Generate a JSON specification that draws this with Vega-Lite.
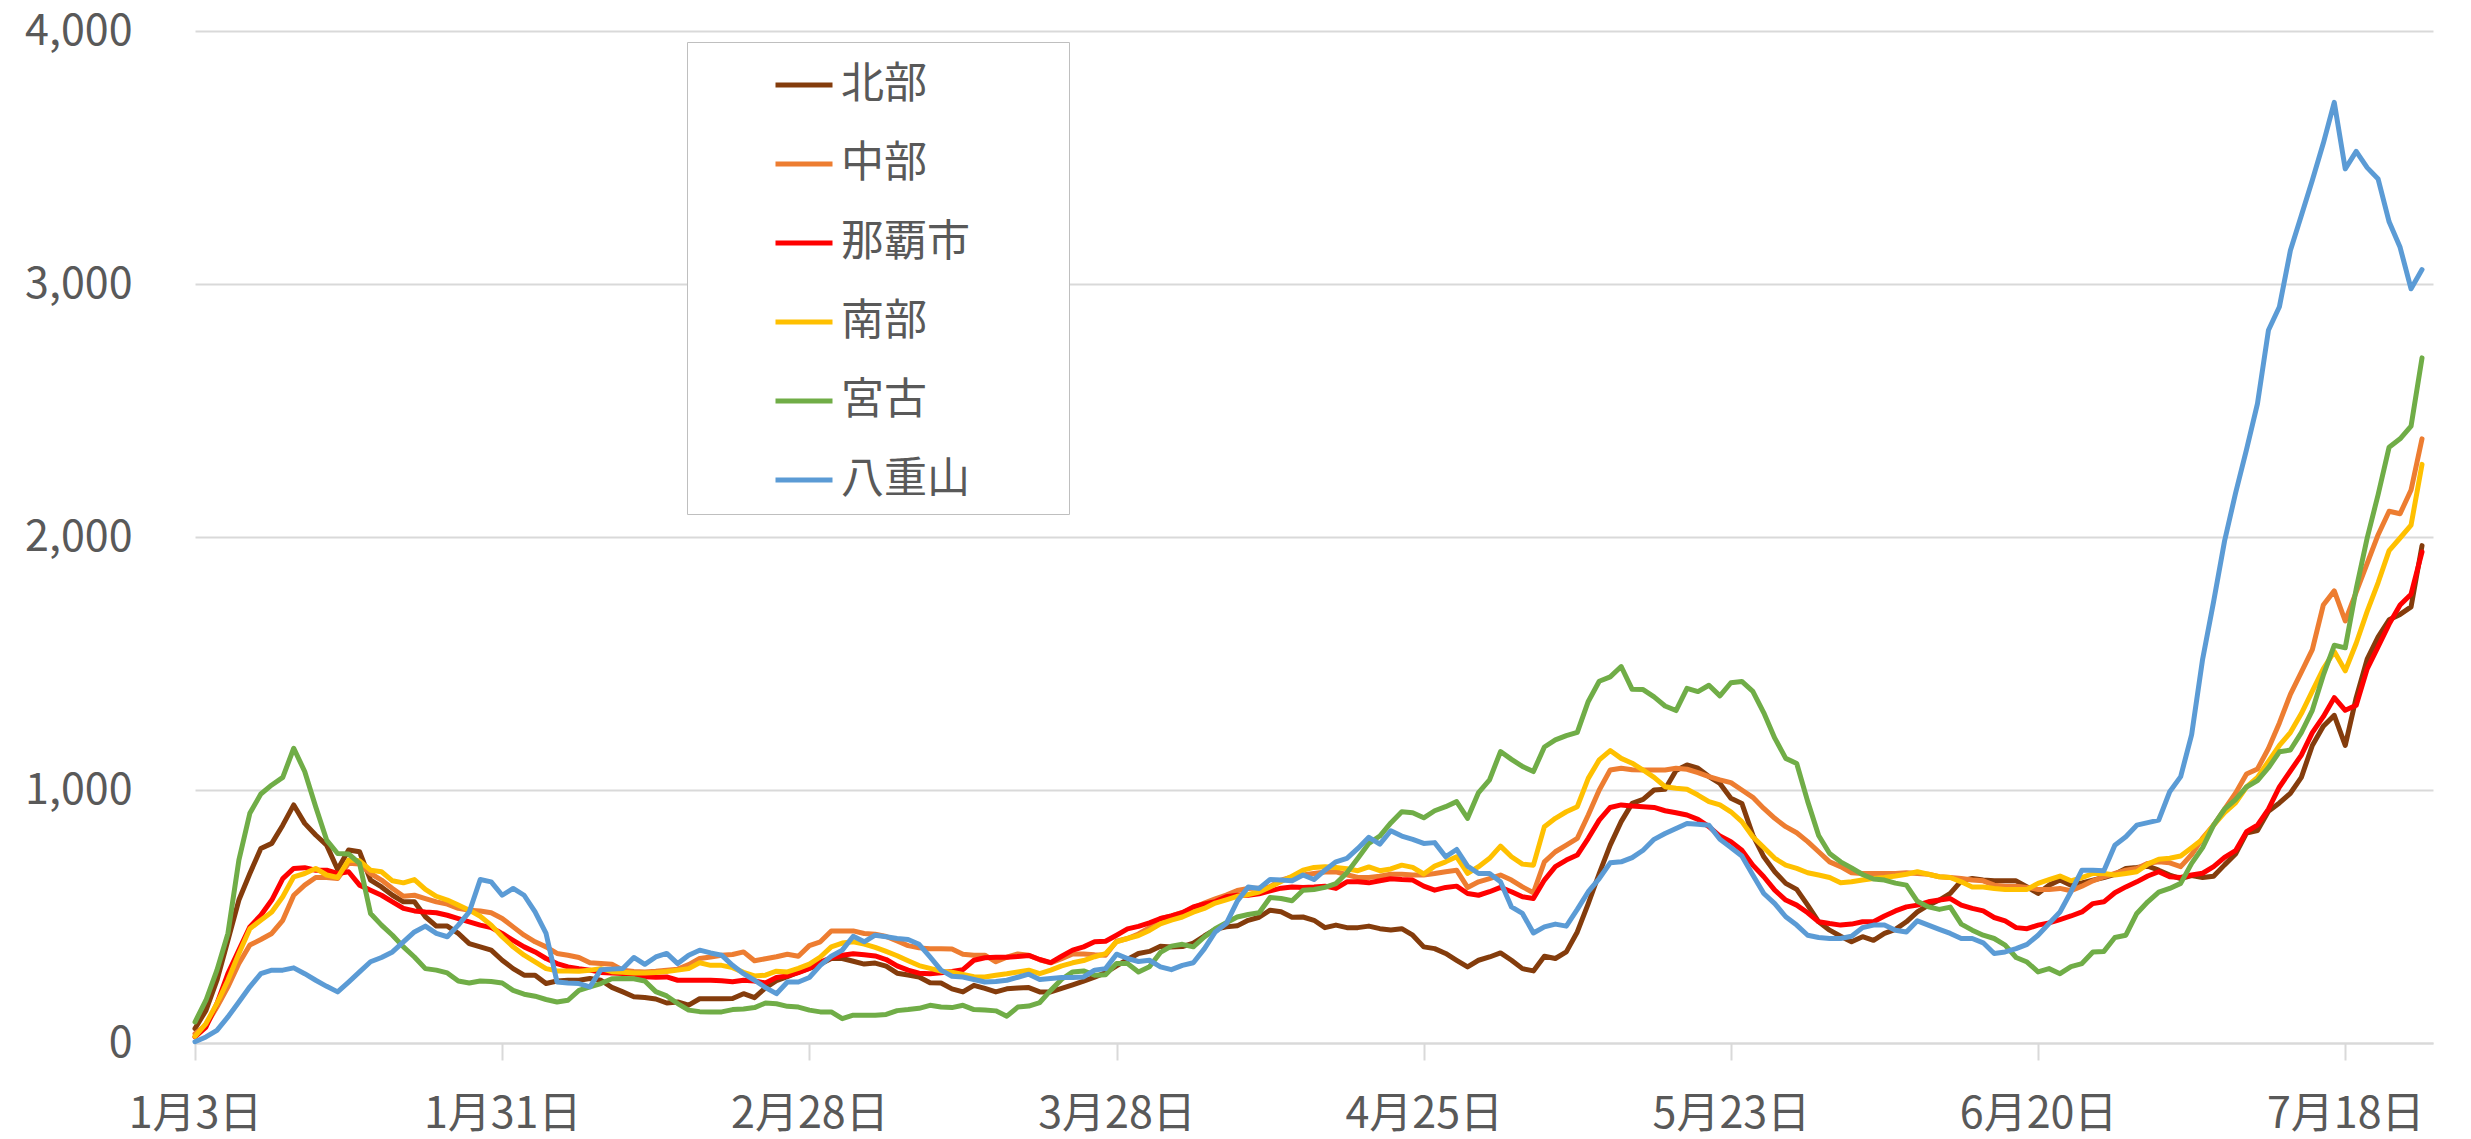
{
  "$schema": "https://vega.github.io/schema/vega-lite/v6.json",
  "width": 2238,
  "height": 1012,
  "autosize": {"type": "none"},
  "padding": {"left": 195, "top": 31, "right": 38, "bottom": 96},
  "background": "#ffffff",
  "config": {"view": {"stroke": null}, "font": "Noto Sans CJK JP"},
  "data": {
    "format": {"parse": {"date": "date:'%Y-%m-%d'"}},
    "values": [
      {"date":"2022-01-03","北部":57,"中部":37,"那覇市":24,"南部":26,"宮古":83,"八重山":5},
      {"date":"2022-01-04","北部":129,"中部":70,"那覇市":63,"南部":77,"宮古":169,"八重山":24},
      {"date":"2022-01-05","北部":248,"中部":142,"那覇市":156,"南部":156,"宮古":288,"八重山":50},
      {"date":"2022-01-06","北部":406,"中部":222,"那覇市":274,"南部":248,"宮古":433,"八重山":103},
      {"date":"2022-01-07","北部":565,"中部":314,"那覇市":367,"南部":354,"宮古":723,"八重山":162},
      {"date":"2022-01-08","北部":670,"中部":387,"那覇市":459,"南部":452,"宮古":908,"八重山":222},
      {"date":"2022-01-09","北部":769,"中部":409,"那覇市":505,"南部":485,"宮古":984,"八重山":274},
      {"date":"2022-01-10","北部":789,"中部":433,"那覇市":565,"南部":518,"宮古":1020,"八重山":288},
      {"date":"2022-01-11","北部":861,"中部":485,"那覇市":650,"南部":578,"宮古":1050,"八重山":288},
      {"date":"2022-01-12","北部":941,"中部":584,"那覇市":690,"南部":657,"宮古":1165,"八重山":297},
      {"date":"2022-01-13","北部":868,"中部":624,"那覇市":693,"南部":670,"宮古":1073,"八重山":274},
      {"date":"2022-01-14","北部":822,"中部":654,"那覇市":683,"南部":690,"宮古":934,"八重山":248},
      {"date":"2022-01-15","北部":782,"中部":654,"那覇市":683,"南部":664,"宮古":802,"八重山":224},
      {"date":"2022-01-16","北部":686,"中部":650,"那覇市":670,"南部":654,"宮古":749,"八重山":202},
      {"date":"2022-01-17","北部":763,"中部":710,"那覇市":677,"南部":723,"宮古":747,"八重山":241},
      {"date":"2022-01-18","北部":756,"中部":707,"那覇市":624,"南部":720,"宮古":710,"八重山":281},
      {"date":"2022-01-19","北部":644,"中部":670,"那覇市":604,"南部":683,"宮古":512,"八重山":321},
      {"date":"2022-01-20","北部":617,"中部":644,"那覇市":584,"南部":677,"宮古":466,"八重山":338},
      {"date":"2022-01-21","北部":584,"中部":611,"那覇市":558,"南部":641,"宮古":426,"八重山":360},
      {"date":"2022-01-22","北部":558,"中部":580,"那覇市":532,"南部":633,"宮古":380,"八重山":400},
      {"date":"2022-01-23","北部":558,"中部":584,"那覇市":522,"南部":646,"宮古":340,"八重山":439},
      {"date":"2022-01-24","北部":499,"中部":571,"那覇市":518,"南部":607,"宮古":294,"八重山":462},
      {"date":"2022-01-25","北部":462,"中部":558,"那覇市":515,"南部":580,"宮古":288,"八重山":433},
      {"date":"2022-01-26","北部":462,"中部":549,"那覇市":505,"南部":565,"宮古":277,"八重山":420},
      {"date":"2022-01-27","北部":433,"中部":532,"那覇市":492,"南部":545,"宮古":245,"八重山":466},
      {"date":"2022-01-28","北部":393,"中部":525,"那覇市":479,"南部":525,"宮古":237,"八重山":518},
      {"date":"2022-01-29","北部":380,"中部":522,"那覇市":466,"南部":501,"宮古":245,"八重山":646},
      {"date":"2022-01-30","北部":367,"中部":515,"那覇市":456,"南部":466,"宮古":243,"八重山":637},
      {"date":"2022-01-31","北部":327,"中部":492,"那覇市":433,"南部":420,"宮古":237,"八重山":584},
      {"date":"2022-02-01","北部":294,"中部":459,"那覇市":406,"南部":380,"宮古":208,"八重山":611},
      {"date":"2022-02-02","北部":268,"中部":426,"那覇市":380,"南部":347,"宮古":193,"八重山":584},
      {"date":"2022-02-03","北部":268,"中部":400,"那覇市":360,"南部":321,"宮古":185,"八重山":518},
      {"date":"2022-02-04","北部":235,"中部":380,"那覇市":334,"南部":294,"宮古":172,"八重山":433},
      {"date":"2022-02-05","北部":245,"中部":354,"那覇市":314,"南部":285,"宮古":162,"八重山":241},
      {"date":"2022-02-06","北部":248,"中部":347,"那覇市":301,"南部":285,"宮古":169,"八重山":237},
      {"date":"2022-02-07","北部":248,"中部":338,"那覇市":294,"南部":284,"宮古":208,"八重山":235},
      {"date":"2022-02-08","北部":255,"中部":317,"那覇市":288,"南部":288,"宮古":222,"八重山":222},
      {"date":"2022-02-09","北部":248,"中部":314,"那覇市":279,"南部":294,"宮古":235,"八重山":290},
      {"date":"2022-02-10","北部":220,"中部":311,"那覇市":277,"南部":282,"宮古":254,"八重山":292},
      {"date":"2022-02-11","北部":202,"中部":288,"那覇市":275,"南部":280,"宮古":255,"八重山":294},
      {"date":"2022-02-12","北部":183,"中部":283,"那覇市":272,"南部":277,"宮古":254,"八重山":338},
      {"date":"2022-02-13","北部":180,"中部":281,"那覇市":262,"南部":277,"宮古":245,"八重山":311},
      {"date":"2022-02-14","北部":174,"中部":284,"那覇市":260,"南部":279,"宮古":203,"八重山":340},
      {"date":"2022-02-15","北部":158,"中部":288,"那覇市":261,"南部":283,"宮古":186,"八重山":354},
      {"date":"2022-02-16","北部":162,"中部":292,"那覇市":248,"南部":288,"宮古":156,"八重山":314},
      {"date":"2022-02-17","北部":150,"中部":310,"那覇市":248,"南部":294,"宮古":130,"八重山":347},
      {"date":"2022-02-18","北部":175,"中部":334,"那覇市":248,"南部":317,"宮古":124,"八重山":367},
      {"date":"2022-02-19","北部":175,"中部":340,"那覇市":248,"南部":307,"宮古":123,"八重山":356},
      {"date":"2022-02-20","北部":175,"中部":347,"那覇市":246,"南部":307,"宮古":123,"八重山":347},
      {"date":"2022-02-21","北部":176,"中部":350,"那覇市":242,"南部":298,"宮古":132,"八重山":307},
      {"date":"2022-02-22","北部":195,"中部":360,"那覇市":248,"南部":279,"宮古":134,"八重山":274},
      {"date":"2022-02-23","北部":179,"中部":325,"那覇市":245,"南部":265,"宮古":140,"八重山":248},
      {"date":"2022-02-24","北部":218,"中部":333,"那覇市":237,"南部":268,"宮古":158,"八重山":219},
      {"date":"2022-02-25","北部":246,"中部":341,"那覇市":259,"南部":284,"宮古":155,"八重山":195},
      {"date":"2022-02-26","北部":262,"中部":351,"那覇市":265,"南部":281,"宮古":145,"八重山":241},
      {"date":"2022-02-27","北部":280,"中部":343,"那覇市":278,"南部":295,"宮古":142,"八重山":241},
      {"date":"2022-02-28","北部":295,"中部":385,"那覇市":295,"南部":312,"宮古":130,"八重山":259},
      {"date":"2022-03-01","北部":312,"中部":400,"那覇市":320,"南部":340,"宮古":123,"八重山":307},
      {"date":"2022-03-02","北部":334,"中部":443,"那覇市":337,"南部":380,"宮古":123,"八重山":343},
      {"date":"2022-03-03","北部":334,"中部":443,"那覇市":347,"南部":395,"宮古":96,"八重山":367},
      {"date":"2022-03-04","北部":323,"中部":443,"那覇市":353,"南部":400,"宮古":110,"八重山":422},
      {"date":"2022-03-05","北部":312,"中部":433,"那覇市":349,"南部":391,"宮古":110,"八重山":400},
      {"date":"2022-03-06","北部":316,"中部":430,"那覇市":344,"南部":378,"宮古":110,"八重山":426},
      {"date":"2022-03-07","北部":304,"中部":421,"那覇市":330,"南部":362,"宮古":113,"八重山":420},
      {"date":"2022-03-08","北部":276,"中部":403,"那覇市":305,"南部":345,"宮古":128,"八重山":413},
      {"date":"2022-03-09","北部":269,"中部":385,"那覇市":288,"南部":325,"宮古":132,"八重山":409},
      {"date":"2022-03-10","北部":261,"中部":376,"那覇市":276,"南部":306,"宮古":137,"八重山":390},
      {"date":"2022-03-11","北部":238,"中部":373,"那覇市":274,"南部":295,"宮古":149,"八重山":340},
      {"date":"2022-03-12","北部":237,"中部":373,"那覇市":278,"南部":284,"宮古":142,"八重山":288},
      {"date":"2022-03-13","北部":214,"中部":372,"那覇市":283,"南部":280,"宮古":140,"八重山":264},
      {"date":"2022-03-14","北部":202,"中部":351,"那覇市":290,"南部":271,"宮古":149,"八重山":261},
      {"date":"2022-03-15","北部":228,"中部":347,"那覇市":327,"南部":262,"宮古":132,"八重山":251},
      {"date":"2022-03-16","北部":216,"中部":347,"那覇市":337,"南部":261,"宮古":130,"八重山":241},
      {"date":"2022-03-17","北部":202,"中部":321,"那覇市":339,"南部":268,"宮古":127,"八重山":243},
      {"date":"2022-03-18","北部":214,"中部":339,"那覇市":339,"南部":274,"宮古":106,"八重山":248},
      {"date":"2022-03-19","北部":217,"中部":352,"那覇市":342,"南部":281,"宮古":142,"八重山":260},
      {"date":"2022-03-20","北部":219,"中部":347,"那覇市":346,"南部":288,"宮古":146,"八重山":272},
      {"date":"2022-03-21","北部":202,"中部":329,"那覇市":330,"南部":274,"宮古":160,"八重山":251},
      {"date":"2022-03-22","北部":202,"中部":317,"那覇市":318,"南部":288,"宮古":208,"八重山":255},
      {"date":"2022-03-23","北部":216,"中部":333,"那覇市":343,"南部":305,"宮古":252,"八重山":259},
      {"date":"2022-03-24","北部":230,"中部":352,"那覇市":367,"南部":317,"宮古":281,"八重山":259},
      {"date":"2022-03-25","北部":245,"中部":352,"那覇市":380,"南部":326,"宮古":285,"八重山":261},
      {"date":"2022-03-26","北部":260,"中部":349,"那覇市":400,"南部":341,"宮古":268,"八重山":288},
      {"date":"2022-03-27","北部":278,"中部":347,"那覇市":402,"南部":353,"宮古":270,"八重山":294},
      {"date":"2022-03-28","北部":305,"中部":402,"那覇市":426,"南部":400,"宮古":314,"八重山":351},
      {"date":"2022-03-29","北部":330,"中部":413,"那覇市":451,"南部":413,"宮古":314,"八重山":334},
      {"date":"2022-03-30","北部":354,"中部":431,"那覇市":461,"南部":425,"宮古":281,"八重山":322},
      {"date":"2022-03-31","北部":362,"中部":456,"那覇市":475,"南部":445,"宮古":301,"八重山":327},
      {"date":"2022-04-01","北部":382,"中部":491,"那覇市":492,"南部":471,"宮古":358,"八重山":301},
      {"date":"2022-04-02","北部":379,"中部":502,"那覇市":502,"南部":486,"宮古":383,"八重山":290},
      {"date":"2022-04-03","北部":381,"中部":516,"那覇市":515,"南部":498,"宮古":390,"八重山":307},
      {"date":"2022-04-04","北部":395,"中部":534,"那覇市":538,"南部":517,"宮古":380,"八重山":317},
      {"date":"2022-04-05","北部":423,"中部":553,"那覇市":550,"南部":532,"宮古":419,"八重山":372},
      {"date":"2022-04-06","北部":449,"中部":570,"那覇市":559,"南部":553,"宮古":452,"八重山":439},
      {"date":"2022-04-07","北部":459,"中部":585,"那覇市":578,"南部":566,"宮古":475,"八重山":472},
      {"date":"2022-04-08","北部":463,"中部":603,"那覇市":584,"南部":580,"宮古":498,"八重山":560},
      {"date":"2022-04-09","北部":485,"中部":611,"那覇市":584,"南部":587,"宮古":508,"八重山":617},
      {"date":"2022-04-10","北部":497,"中部":613,"那覇市":590,"南部":597,"宮古":515,"八重山":611},
      {"date":"2022-04-11","北部":525,"中部":618,"那覇市":601,"南部":617,"宮古":575,"八重山":646},
      {"date":"2022-04-12","北部":519,"中部":644,"那覇市":612,"南部":638,"宮古":571,"八重山":644},
      {"date":"2022-04-13","北部":497,"中部":656,"那覇市":617,"南部":659,"宮古":562,"八重山":641},
      {"date":"2022-04-14","北部":498,"中部":664,"那覇市":615,"南部":683,"宮古":604,"八重山":664},
      {"date":"2022-04-15","北部":485,"中部":670,"那覇市":617,"南部":694,"宮古":607,"八重山":646},
      {"date":"2022-04-16","北部":456,"中部":676,"那覇市":620,"南部":697,"宮古":615,"八重山":683},
      {"date":"2022-04-17","北部":466,"中部":677,"那覇市":611,"南部":694,"宮古":630,"八重山":716},
      {"date":"2022-04-18","北部":456,"中部":665,"那覇市":637,"南部":689,"宮古":673,"八重山":730},
      {"date":"2022-04-19","北部":456,"中部":654,"那覇市":637,"南部":681,"宮古":730,"八重山":769},
      {"date":"2022-04-20","北部":462,"中部":654,"那覇市":633,"南部":696,"宮古":789,"八重山":813},
      {"date":"2022-04-21","北部":452,"中部":659,"那覇市":641,"南部":681,"宮古":818,"八重山":786},
      {"date":"2022-04-22","北部":447,"中部":667,"那覇市":649,"南部":688,"宮古":870,"八重山":839},
      {"date":"2022-04-23","北部":452,"中部":667,"那覇市":646,"南部":703,"宮古":914,"八重山":818},
      {"date":"2022-04-24","北部":426,"中部":664,"那覇市":644,"南部":694,"宮古":910,"八重山":805},
      {"date":"2022-04-25","北部":380,"中部":664,"那覇市":620,"南部":668,"宮古":890,"八重山":789},
      {"date":"2022-04-26","北部":373,"中部":670,"那覇市":604,"南部":699,"宮古":918,"八重山":792},
      {"date":"2022-04-27","北部":354,"中部":677,"那覇市":615,"南部":716,"宮古":934,"八重山":736},
      {"date":"2022-04-28","北部":327,"中部":683,"那覇市":620,"南部":736,"宮古":954,"八重山":765},
      {"date":"2022-04-29","北部":301,"中部":615,"那覇市":591,"南部":670,"宮古":888,"八重山":699},
      {"date":"2022-04-30","北部":327,"中部":637,"那覇市":584,"南部":697,"宮古":990,"八重山":670},
      {"date":"2022-05-01","北部":340,"中部":650,"那覇市":598,"南部":730,"宮古":1040,"八重山":670},
      {"date":"2022-05-02","北部":356,"中部":664,"那覇市":615,"南部":778,"宮古":1152,"八重山":637},
      {"date":"2022-05-03","北部":327,"中部":644,"那覇市":598,"南部":736,"宮古":1121,"八重山":538},
      {"date":"2022-05-04","北部":294,"中部":617,"那覇市":578,"南部":707,"宮古":1093,"八重山":512},
      {"date":"2022-05-05","北部":285,"中部":594,"那覇市":571,"南部":703,"宮古":1073,"八重山":435},
      {"date":"2022-05-06","北部":343,"中部":716,"那覇市":644,"南部":855,"宮古":1170,"八重山":459},
      {"date":"2022-05-07","北部":334,"中部":756,"那覇市":697,"南部":888,"宮古":1198,"八重山":470},
      {"date":"2022-05-08","北部":360,"中部":782,"那覇市":723,"南部":914,"宮古":1215,"八重山":462},
      {"date":"2022-05-09","北部":439,"中部":809,"那覇市":743,"南部":934,"宮古":1228,"八重山":528},
      {"date":"2022-05-10","北部":551,"中部":901,"那覇市":809,"南部":1046,"宮古":1350,"八重山":598},
      {"date":"2022-05-11","北部":670,"中部":1000,"那覇市":881,"南部":1119,"宮古":1430,"八重山":650},
      {"date":"2022-05-12","北部":782,"中部":1079,"那覇市":931,"南部":1156,"宮古":1447,"八重山":712},
      {"date":"2022-05-13","北部":875,"中部":1086,"那覇市":941,"南部":1125,"宮古":1488,"八重山":716},
      {"date":"2022-05-14","北部":947,"中部":1080,"那覇市":937,"南部":1106,"宮古":1398,"八重山":733},
      {"date":"2022-05-15","北部":963,"中部":1079,"那覇市":934,"南部":1079,"宮古":1397,"八重山":762},
      {"date":"2022-05-16","北部":1000,"中部":1079,"那覇市":931,"南部":1050,"宮古":1368,"八重山":805},
      {"date":"2022-05-17","北部":1003,"中部":1079,"那覇市":918,"南部":1013,"宮古":1332,"八重山":828},
      {"date":"2022-05-18","北部":1077,"中部":1086,"那覇市":910,"南部":1007,"宮古":1314,"八重山":848},
      {"date":"2022-05-19","北部":1099,"中部":1082,"那覇市":901,"南部":1003,"宮古":1402,"八重山":868},
      {"date":"2022-05-20","北部":1086,"中部":1069,"那覇市":884,"南部":980,"宮古":1389,"八重山":865},
      {"date":"2022-05-21","北部":1053,"中部":1053,"那覇市":855,"南部":954,"宮古":1414,"八重山":861},
      {"date":"2022-05-22","北部":1026,"中部":1040,"那覇市":818,"南部":941,"宮古":1372,"八重山":805},
      {"date":"2022-05-23","北部":967,"中部":1029,"那覇市":796,"南部":914,"宮古":1424,"八重山":773},
      {"date":"2022-05-24","北部":947,"中部":1000,"那覇市":762,"南部":875,"宮古":1429,"八重山":739},
      {"date":"2022-05-25","北部":822,"中部":971,"那覇市":703,"南部":815,"宮古":1390,"八重山":664},
      {"date":"2022-05-26","北部":736,"中部":927,"那覇市":657,"南部":773,"宮古":1305,"八重山":591},
      {"date":"2022-05-27","北部":677,"中部":888,"那覇市":604,"南部":730,"宮古":1205,"八重山":551},
      {"date":"2022-05-28","北部":631,"中部":855,"那覇市":565,"南部":703,"宮古":1125,"八重山":499},
      {"date":"2022-05-29","北部":607,"中部":831,"那覇市":545,"南部":690,"宮古":1105,"八重山":466},
      {"date":"2022-05-30","北部":545,"中部":796,"那覇市":515,"南部":673,"宮古":955,"八重山":426},
      {"date":"2022-05-31","北部":479,"中部":756,"那覇市":479,"南部":664,"宮古":820,"八重山":417},
      {"date":"2022-06-01","北部":446,"中部":716,"那覇市":472,"南部":654,"宮古":749,"八重山":413},
      {"date":"2022-06-02","北部":422,"中部":697,"那覇市":466,"南部":633,"宮古":716,"八重山":413},
      {"date":"2022-06-03","北部":400,"中部":673,"那覇市":470,"南部":637,"宮古":692,"八重山":422},
      {"date":"2022-06-04","北部":420,"中部":670,"那覇市":479,"南部":644,"宮古":666,"八重山":456},
      {"date":"2022-06-05","北部":406,"中部":670,"那覇市":479,"南部":650,"宮古":648,"八重山":466},
      {"date":"2022-06-06","北部":433,"中部":670,"那覇市":502,"南部":654,"宮古":644,"八重山":466},
      {"date":"2022-06-07","北部":449,"中部":670,"那覇市":522,"南部":660,"宮古":632,"八重山":446},
      {"date":"2022-06-08","北部":479,"中部":673,"那覇市":538,"南部":667,"宮古":624,"八重山":439},
      {"date":"2022-06-09","北部":518,"中部":670,"那覇市":545,"南部":677,"宮古":560,"八重山":483},
      {"date":"2022-06-10","北部":545,"中部":667,"那覇市":558,"南部":667,"宮古":538,"八重山":466},
      {"date":"2022-06-11","北部":565,"中部":657,"那覇市":565,"南部":657,"宮古":528,"八重山":449},
      {"date":"2022-06-12","北部":591,"中部":654,"那覇市":571,"南部":654,"宮古":537,"八重山":433},
      {"date":"2022-06-13","北部":641,"中部":650,"那覇市":545,"南部":637,"宮古":470,"八重山":413},
      {"date":"2022-06-14","北部":650,"中部":644,"那覇市":532,"南部":617,"宮古":446,"八重山":413},
      {"date":"2022-06-15","北部":644,"中部":641,"那覇市":522,"南部":617,"宮古":426,"八重山":396},
      {"date":"2022-06-16","北部":641,"中部":624,"那覇市":496,"南部":611,"宮古":413,"八重山":354},
      {"date":"2022-06-17","北部":641,"中部":620,"那覇市":483,"南部":607,"宮古":387,"八重山":360},
      {"date":"2022-06-18","北部":641,"中部":620,"那覇市":456,"南部":607,"宮古":338,"八重山":373},
      {"date":"2022-06-19","北部":617,"中部":615,"那覇市":452,"南部":607,"宮古":320,"八重山":390},
      {"date":"2022-06-20","北部":591,"中部":607,"那覇市":466,"南部":631,"宮古":281,"八重山":426},
      {"date":"2022-06-21","北部":624,"中部":607,"那覇市":475,"南部":646,"宮古":294,"八重山":472},
      {"date":"2022-06-22","北部":644,"中部":611,"那覇市":488,"南部":660,"宮古":274,"八重山":518},
      {"date":"2022-06-23","北部":624,"中部":602,"那覇市":502,"南部":641,"宮古":302,"八重山":598},
      {"date":"2022-06-24","北部":633,"中部":620,"那覇市":518,"南部":654,"宮古":314,"八重山":683},
      {"date":"2022-06-25","北部":644,"中部":641,"那覇市":551,"南部":670,"宮古":360,"八重山":683},
      {"date":"2022-06-26","北部":654,"中部":657,"那覇市":558,"南部":670,"宮古":362,"八重山":681},
      {"date":"2022-06-27","北部":667,"中部":670,"那覇市":594,"南部":664,"宮古":417,"八重山":782},
      {"date":"2022-06-28","北部":690,"中部":683,"那覇市":617,"南部":670,"宮古":426,"八重山":815},
      {"date":"2022-06-29","北部":694,"中部":690,"那覇市":637,"南部":677,"宮古":512,"八重山":861},
      {"date":"2022-06-30","北部":699,"中部":710,"那覇市":660,"南部":707,"宮古":558,"八重山":871},
      {"date":"2022-07-01","北部":683,"中部":716,"那覇市":677,"南部":726,"宮古":596,"八重山":881},
      {"date":"2022-07-02","北部":664,"中部":712,"那覇市":657,"南部":730,"宮古":611,"八重山":993},
      {"date":"2022-07-03","北部":650,"中部":697,"那覇市":654,"南部":739,"宮古":631,"八重山":1053},
      {"date":"2022-07-04","北部":662,"中部":745,"那覇市":664,"南部":772,"宮古":710,"八重山":1219},
      {"date":"2022-07-05","北部":654,"中部":810,"那覇市":671,"南部":805,"宮古":772,"八重山":1517},
      {"date":"2022-07-06","北部":659,"中部":861,"那覇市":697,"南部":861,"宮古":861,"八重山":1744},
      {"date":"2022-07-07","北部":704,"中部":924,"那覇市":734,"南部":911,"宮古":924,"八重山":1984},
      {"date":"2022-07-08","北部":747,"中部":987,"那覇市":760,"南部":949,"宮古":962,"八重山":2173},
      {"date":"2022-07-09","北部":830,"中部":1063,"那覇市":835,"南部":1012,"宮古":1012,"八重山":2345},
      {"date":"2022-07-10","北部":840,"中部":1083,"那覇市":861,"南部":1050,"宮古":1037,"八重山":2527},
      {"date":"2022-07-11","北部":916,"中部":1164,"那覇市":924,"南部":1113,"宮古":1088,"八重山":2817},
      {"date":"2022-07-12","北部":949,"中部":1265,"那覇市":1012,"南部":1176,"宮古":1151,"八重山":2910},
      {"date":"2022-07-13","北部":987,"中部":1378,"那覇市":1075,"南部":1227,"宮古":1158,"八重山":3132},
      {"date":"2022-07-14","北部":1050,"中部":1466,"那覇市":1138,"南部":1302,"宮古":1227,"八重山":3271},
      {"date":"2022-07-15","北部":1176,"中部":1555,"那覇市":1227,"南部":1391,"宮古":1315,"八重山":3410},
      {"date":"2022-07-16","北部":1252,"中部":1731,"那覇市":1290,"南部":1479,"宮古":1454,"八重山":3556},
      {"date":"2022-07-17","北部":1295,"中部":1787,"那覇市":1365,"南部":1547,"宮古":1572,"八重山":3718},
      {"date":"2022-07-18","北部":1176,"中部":1668,"那覇市":1315,"南部":1471,"宮古":1562,"八重山":3455},
      {"date":"2022-07-19","北部":1365,"中部":1782,"那覇市":1335,"南部":1580,"宮古":1795,"八重山":3524},
      {"date":"2022-07-20","北部":1517,"中部":1896,"那覇市":1479,"南部":1706,"宮古":1996,"八重山":3460},
      {"date":"2022-07-21","北部":1605,"中部":2009,"那覇市":1567,"南部":1820,"宮古":2168,"八重山":3415},
      {"date":"2022-07-22","北部":1673,"中部":2102,"那覇市":1656,"南部":1946,"宮古":2355,"八重山":3246},
      {"date":"2022-07-23","北部":1694,"中部":2092,"那覇市":1731,"南部":1996,"宮古":2388,"八重山":3145},
      {"date":"2022-07-24","北部":1724,"中部":2186,"那覇市":1774,"南部":2047,"宮古":2438,"八重山":2981},
      {"date":"2022-07-25","北部":1966,"中部":2388,"那覇市":1941,"南部":2287,"宮古":2708,"八重山":3057}
    ]
  },
  "transform": [
    {"fold": ["北部", "中部", "那覇市", "南部", "宮古", "八重山"], "as": ["area", "value"]}
  ],
  "mark": {"type": "line", "strokeWidth": 5, "strokeCap": "round", "strokeJoin": "round"},
  "encoding": {
    "x": {
      "field": "date",
      "type": "temporal",
      "scale": {"domain": [{"year": 2022, "month": 1, "date": 3}, {"year": 2022, "month": 7, "date": 26}]},
      "axis": {
        "title": null,
        "values": [
          {"year": 2022, "month": 1, "date": 3},
          {"year": 2022, "month": 1, "date": 31},
          {"year": 2022, "month": 2, "date": 28},
          {"year": 2022, "month": 3, "date": 28},
          {"year": 2022, "month": 4, "date": 25},
          {"year": 2022, "month": 5, "date": 23},
          {"year": 2022, "month": 6, "date": 20},
          {"year": 2022, "month": 7, "date": 18}
        ],
        "format": "%-m月%-d日",
        "grid": false,
        "domainColor": "#d9d9d9",
        "domainWidth": 2,
        "ticks": true,
        "tickColor": "#d9d9d9",
        "tickWidth": 2,
        "tickSize": 17,
        "labelFontSize": 43,
        "labelColor": "#595959",
        "labelPadding": 33,
        "labelFlush": false,
        "labelOverlap": false,
        "labelBound": false
      }
    },
    "y": {
      "field": "value",
      "type": "quantitative",
      "scale": {"domain": [0, 4000], "nice": false},
      "axis": {
        "title": null,
        "values": [0, 1000, 2000, 3000, 4000],
        "format": ",d",
        "grid": true,
        "gridColor": "#d9d9d9",
        "gridWidth": 2,
        "domain": false,
        "ticks": false,
        "labelFontSize": 43,
        "labelColor": "#595959",
        "labelPadding": 63
      }
    },
    "color": {
      "field": "area",
      "type": "nominal",
      "scale": {
        "domain": ["北部", "中部", "那覇市", "南部", "宮古", "八重山"],
        "range": ["#843C0C", "#ED7D31", "#FF0000", "#FFC000", "#70AD47", "#5B9BD5"]
      },
      "legend": {
        "title": "　",
        "titleOrient": "right",
        "titleFontSize": 43,
        "titlePadding": 87,
        "orient": "none",
        "legendX": 492,
        "legendY": 11,
        "direction": "vertical",
        "symbolType": "stroke",
        "symbolSize": 3249,
        "symbolStrokeWidth": 5,
        "symbolOffset": 74,
        "labelOffset": 6,
        "labelFontSize": 43,
        "labelColor": "#595959",
        "labelLimit": 400,
        "rowPadding": 26,
        "padding": 12,
        "strokeColor": "#bfbfbf",
        "fillColor": "#ffffff"
      }
    }
  }
}
